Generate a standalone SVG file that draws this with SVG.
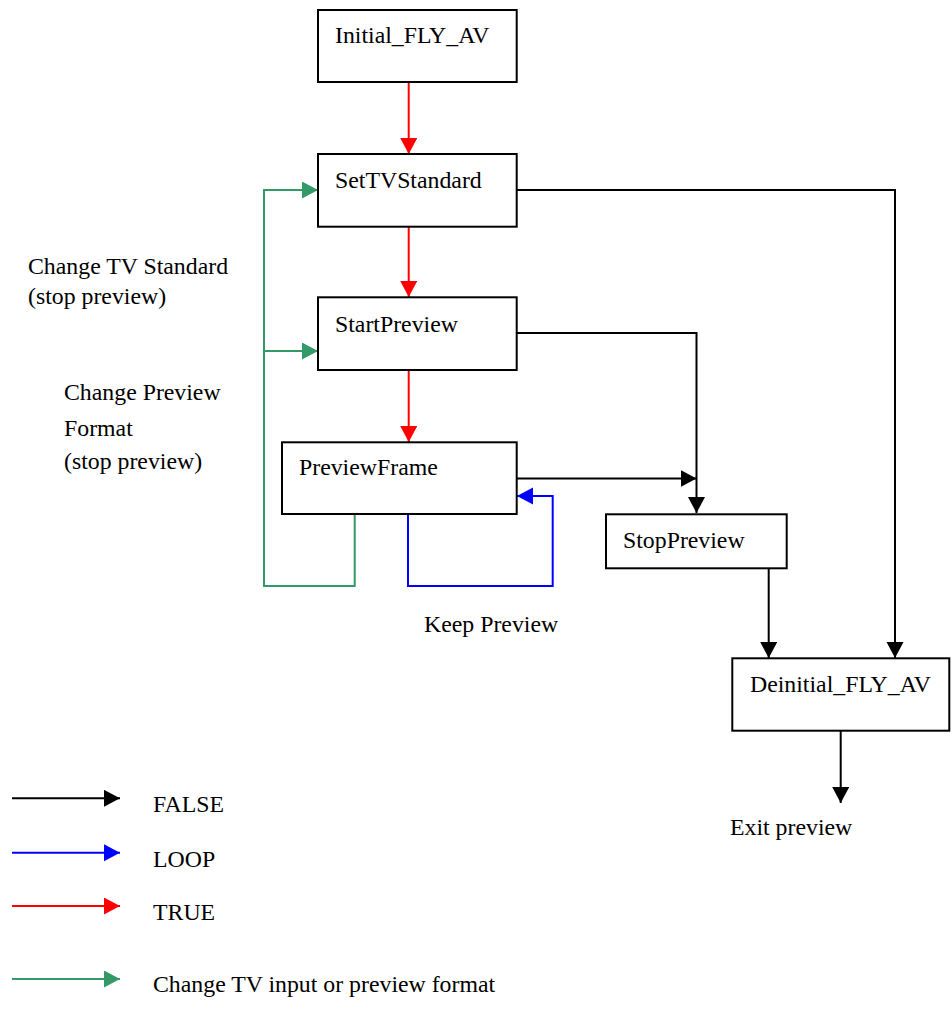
<svg xmlns="http://www.w3.org/2000/svg" width="952" height="1012" viewBox="0 0 952 1012">
<style>
.box{fill:#fff;stroke:#000;stroke-width:2}
.t{font-family:"Liberation Serif","Times New Roman",serif;font-size:23.8px;fill:#000}
.c{fill:none;stroke-width:2}
.k{stroke:#000}.r{stroke:#ff0000}.b{stroke:#0000ff}.g{stroke:#339966}
</style>
<defs>
<marker id="ak" markerUnits="userSpaceOnUse" markerWidth="17" markerHeight="18" refX="16" refY="8.5" orient="auto"><path d="M0,0 L16,8.5 L0,17 Z" fill="#000"/></marker>
<marker id="ar" markerUnits="userSpaceOnUse" markerWidth="17" markerHeight="18" refX="16" refY="8.5" orient="auto"><path d="M0,0 L16,8.5 L0,17 Z" fill="#ff0000"/></marker>
<marker id="ab" markerUnits="userSpaceOnUse" markerWidth="17" markerHeight="18" refX="16" refY="8.5" orient="auto"><path d="M0,0 L16,8.5 L0,17 Z" fill="#0000ff"/></marker>
<marker id="ag" markerUnits="userSpaceOnUse" markerWidth="17" markerHeight="18" refX="16" refY="8.5" orient="auto"><path d="M0,0 L16,8.5 L0,17 Z" fill="#339966"/></marker>
</defs>
<rect width="952" height="1012" fill="#fff"/>
<g id="connectors">
<path class="c r" d="M408.7,82 V154" marker-end="url(#ar)"/>
<path class="c r" d="M408.7,227 V297" marker-end="url(#ar)"/>
<path class="c r" d="M408.7,370 V442" marker-end="url(#ar)"/>
<path class="c k" d="M517,190 H895 V658" marker-end="url(#ak)"/>
<path class="c k" d="M517,333 H696.5 V513" marker-end="url(#ak)"/>
<path class="c k" d="M517,478.5 H696.5" marker-end="url(#ak)"/>
<path class="c k" d="M768.7,568 V658" marker-end="url(#ak)"/>
<path class="c k" d="M840.7,731 V803" marker-end="url(#ak)"/>
<path class="c b" d="M408,514 V586 H552.7 V496 H517" marker-end="url(#ab)"/>
<path class="c g" d="M354.7,514 V586 H264 V190 H318" marker-end="url(#ag)"/>
<path class="c g" d="M264,351 H318" marker-end="url(#ag)"/>
</g>
<g id="n-initial"><rect class="box" x="318" y="10" width="198.7" height="72"/><text class="t" x="335" y="43">Initial_FLY_AV</text></g>
<g id="n-settv"><rect class="box" x="318" y="154" width="198.7" height="72.7"/><text class="t" x="335" y="188">SetTVStandard</text></g>
<g id="n-start"><rect class="box" x="318" y="297.3" width="198.7" height="72.7"/><text class="t" x="335" y="331.5">StartPreview</text></g>
<g id="n-frame"><rect class="box" x="282" y="442.3" width="234.7" height="71.7"/><text class="t" x="299" y="475">PreviewFrame</text></g>
<g id="n-stop"><rect class="box" x="606" y="514.3" width="180.7" height="54"/><text class="t" x="623" y="547.5">StopPreview</text></g>
<g id="n-deinit"><rect class="box" x="732.3" y="658.3" width="217" height="72.4"/><text class="t" x="750" y="691.5">Deinitial_FLY_AV</text></g>
<g id="labels">
<text class="t" x="730" y="835">Exit preview</text>
<text class="t" x="424" y="631.5">Keep Preview</text>
<text class="t" x="28" y="274">Change TV Standard</text>
<text class="t" x="28" y="304">(stop preview)</text>
<text class="t" x="64" y="400">Change Preview</text>
<text class="t" x="64" y="436">Format</text>
<text class="t" x="64" y="469">(stop preview)</text>
</g>
<g id="legend">
<path class="c k" d="M12,798.3 H120" marker-end="url(#ak)"/>
<path class="c b" d="M12,852.7 H120" marker-end="url(#ab)"/>
<path class="c r" d="M12,906 H120" marker-end="url(#ar)"/>
<path class="c g" d="M12,979 H120" marker-end="url(#ag)"/>
<text class="t" x="153" y="811.5">FALSE</text>
<text class="t" x="153" y="866.5">LOOP</text>
<text class="t" x="153" y="920">TRUE</text>
<text class="t" x="153" y="991.5">Change TV input or preview format</text>
</g>
</svg>
